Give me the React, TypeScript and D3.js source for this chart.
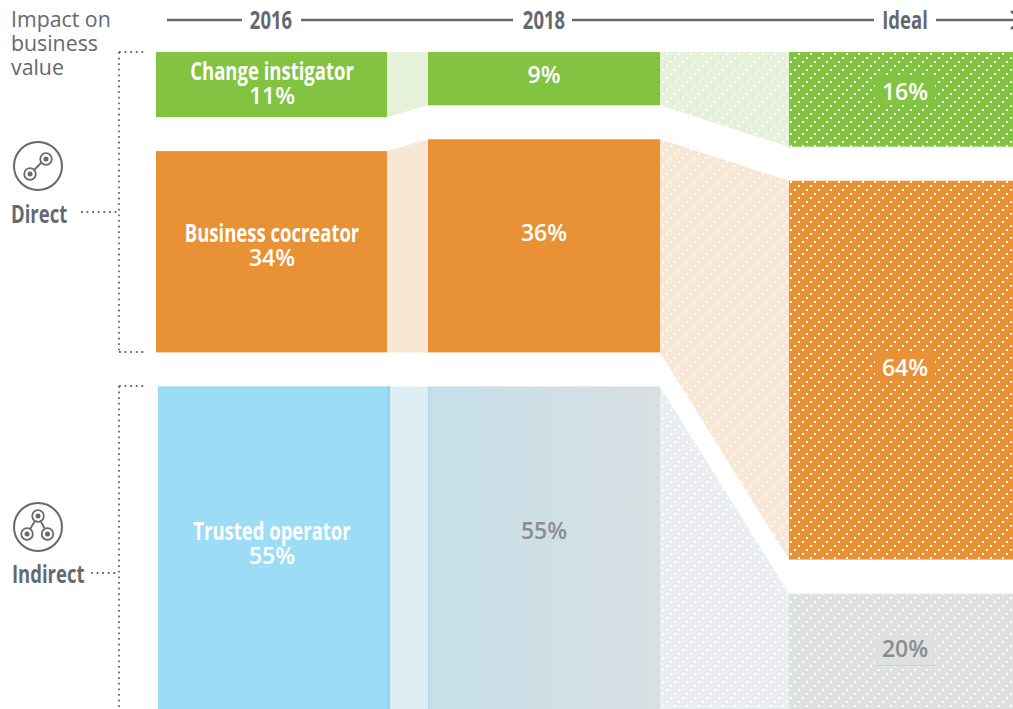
import React from 'react';
import * as d3 from 'd3';

const columns = ['2016', '2018', 'Ideal'];
const roles = ['Change instigator', 'Business cocreator', 'Trusted operator'];
const values2016 = [11, 34, 55];
const values2018 = [9, 36, 55];
const valuesIdeal = [16, 64, 20];
const tiers = ['Direct', 'Indirect'];

const width = 1013;
const height = 709;
const top = 52;
const gap = 34;
const barWidth = 232;
const sans = '"Open Sans", sans-serif';
const grey = '#646871';

const xScale = d3.scaleOrdinal<string, number>().domain(columns).range([156, 428, 789]);
const hScale = d3.scaleLinear().domain([0, 100]).range([0, 592]);
const fills = ['#82c341', '#e99135', '#9cdcf5'];
const ribbons = ['#e5f1d9', '#f9e7d6', '#dfedf4'];

// stacks one column from the top with a fixed gap between the blocks
const stackUp = (values: number[]) => {
  const ends = Array.from(d3.cumsum(values));
  return values.map((v, i) => ({
    y0: top + hScale(ends[i] - v) + i * gap,
    y1: top + hScale(ends[i]) + i * gap,
  }));
};

const stacks = [stackUp(values2016), stackUp(values2018), stackUp(valuesIdeal)];

const ribbon = d3
  .area<{ x: number; y0: number; y1: number }>()
  .x((d) => d.x)
  .y0((d) => d.y0)
  .y1((d) => d.y1);

// squeezed Open Sans stands in for the condensed face
const Cond = ({ x, y, size = 25, fill = '#fff', anchor = 'middle', sx = 0.74, children }: any) => (
  <text
    transform={`translate(${x},${y}) scale(${sx},1)`}
    fontFamily={sans}
    fontWeight={700}
    fontSize={size}
    fill={fill}
    textAnchor={anchor}
  >
    {children}
  </text>
);

const Pct = ({ x, y, fill = '#fff', children }: any) => (
  <text x={x} y={y} fontFamily={sans} fontWeight={600} fontSize={23} fill={fill} textAnchor="middle">
    {children}
  </text>
);

const Node = ({ cx, cy }: any) => (
  <>
    <circle cx={cx} cy={cy} r={5.8} fill="#fff" stroke={grey} strokeWidth={1.8} />
    <circle cx={cx} cy={cy} r={2.5} fill={grey} />
  </>
);

const Dotted = ({ d }: any) => (
  <path d={d} fill="none" stroke={grey} strokeWidth={1.8} strokeDasharray="1.8 3.8" />
);

export default function App() {
  const x16 = xScale('2016');
  const x18 = xScale('2018');
  const xIdeal = xScale('Ideal');
  const cx = columns.map((c) => xScale(c) + barWidth / 2);
  const [s16, s18, sIdeal] = stacks;

  return (
    <svg
      width={width}
      height={height}
      viewBox={`0 0 ${width} ${height}`}
      style={{ position: 'absolute', left: 0, top: 0, background: '#fff' }}
    >
      <defs>
        <pattern id="dots" width={12} height={12} patternUnits="userSpaceOnUse" x={789} y={52}>
          <rect x={1} y={9} width={2} height={2} fill="#fff" />
          <rect x={5} y={5} width={2} height={2} fill="#fff" />
          <rect x={9} y={1} width={2} height={2} fill="#fff" />
        </pattern>
        <linearGradient id="fade2018" x1="0" x2="1" y1="0" y2="0">
          <stop offset="0" stopColor="#c6dfea" />
          <stop offset="1" stopColor="#d9dfe3" />
        </linearGradient>
      </defs>

      {/* header rules */}
      <g stroke={grey} strokeWidth={2.4}>
        <line x1={167} x2={242} y1={20} y2={20} />
        <line x1={301} x2={513} y1={20} y2={20} />
        <line x1={572} x2={874} y1={20} y2={20} />
        <line x1={936} x2={1013} y1={20} y2={20} />
      </g>
      <path d="M1011,11 L1021,20 L1011,29" fill="none" stroke={grey} strokeWidth={2.4} />
      {columns.map((c, i) => (
        <Cond key={c} x={cx[i] - (i === 0 ? 1 : 0)} y={29} fill={grey}>
          {c}
        </Cond>
      ))}

      {/* left titles */}
      <g fontFamily={sans} fontSize={21.3} fill={grey}>
        <text x={11} y={27}>Impact on</text>
        <text x={11} y={51}>business</text>
        <text x={11} y={75}>value</text>
      </g>
      <Cond x={11} y={223} fill={grey} anchor="start">{tiers[0]}</Cond>
      <Cond x={12} y={583} fill={grey} anchor="start">{tiers[1]}</Cond>

      {/* brackets */}
      <Dotted d="M119,52 H147" />
      <Dotted d="M119,52 V352" />
      <Dotted d="M119,352 H147" />
      <Dotted d="M81,212 H118" />
      <Dotted d="M119,386 H147" />
      <Dotted d="M119,386 V709" />
      <Dotted d="M91,573 H118" />

      {/* icons */}
      <circle cx={38} cy={166} r={24} fill="none" stroke={grey} strokeWidth={2} />
      <line x1={30} y1={174} x2={46} y2={158} stroke={grey} strokeWidth={1.8} />
      <Node cx={30} cy={174} />
      <Node cx={46} cy={159} />
      <circle cx={38} cy={527} r={24} fill="none" stroke={grey} strokeWidth={2} />
      <path d="M38,516 L27,534 M38,516 L47.500,534" stroke={grey} strokeWidth={1.8} />
      <Node cx={38} cy={516} />
      <Node cx={27} cy={534} />
      <Node cx={47.5} cy={534} />

      {/* ribbons 2016 to 2018 */}
      {roles.map((r, i) => (
        <path
          key={r}
          fill={ribbons[i]}
          d={
            ribbon([
              { x: x16 + barWidth - 1, y0: s16[i].y0, y1: s16[i].y1 },
              { x: x18, y0: s18[i].y0, y1: s18[i].y1 },
            ]) as string
          }
        />
      ))}

      {/* ribbons 2018 to ideal */}
      {roles.map((r, i) => {
        const d = ribbon([
          { x: x18 + barWidth, y0: s18[i].y0, y1: s18[i].y1 },
          { x: xIdeal, y0: sIdeal[i].y0, y1: sIdeal[i].y1 },
        ]) as string;
        return (
          <g key={r}>
            <path d={d} fill={i === 2 ? '#ebeef0' : ribbons[i]} />
            <path d={d} fill="url(#dots)" />
          </g>
        );
      })}

      {/* 2016 */}
      {s16.map((b, i) => (
        <rect
          key={i}
          x={i === 2 ? x16 + 2 : x16}
          y={b.y0}
          width={barWidth - 1}
          height={b.y1 - b.y0}
          fill={fills[i]}
        />
      ))}
      <rect x={x16 + 231} y={s16[2].y0} width={3} height={s16[2].y1 - s16[2].y0} fill="#8fd5ef" />

      {/* 2018 */}
      {s18.map((b, i) => (
        <rect
          key={i}
          x={x18}
          y={b.y0}
          width={barWidth}
          height={b.y1 - b.y0}
          fill={i === 2 ? 'url(#fade2018)' : fills[i]}
        />
      ))}
      <rect x={x18} y={s18[2].y0} width={1} height={s18[2].y1 - s18[2].y0} fill="#b4d6e3" />

      {/* ideal */}
      {sIdeal.map((b, i) => (
        <g key={i}>
          <rect
            x={xIdeal}
            y={b.y0}
            width={barWidth}
            height={b.y1 - b.y0}
            fill={i === 2 ? '#dfe0e0' : fills[i]}
          />
          <rect x={xIdeal} y={b.y0} width={barWidth} height={b.y1 - b.y0} fill="url(#dots)" />
        </g>
      ))}

      {/* labels 2016 */}
      <Cond x={cx[0]} y={80}>{roles[0]}</Cond>
      <Pct x={cx[0]} y={104}>{values2016[0]}%</Pct>
      <Cond x={cx[0]} y={242}>{roles[1]}</Cond>
      <Pct x={cx[0]} y={266}>{values2016[1]}%</Pct>
      <Cond x={cx[0]} y={540}>{roles[2]}</Cond>
      <Pct x={cx[0]} y={564}>{values2016[2]}%</Pct>

      {/* labels 2018 */}
      <Pct x={cx[1]} y={83}>{values2018[0]}%</Pct>
      <Pct x={cx[1]} y={241}>{values2018[1]}%</Pct>
      <Pct x={cx[1]} y={539} fill="#8a8d91">{values2018[2]}%</Pct>

      {/* labels ideal, on a plain patch so the dots stay clear of them */}
      <rect x={cx[2] - 30} y={76} width={60} height={29} fill={fills[0]} />
      <Pct x={905} y={100}>{valuesIdeal[0]}%</Pct>
      <rect x={cx[2] - 30} y={352} width={60} height={29} fill={fills[1]} />
      <Pct x={905} y={376}>{valuesIdeal[1]}%</Pct>
      <rect x={cx[2] - 30} y={637} width={60} height={28} fill="#dfe0e0" />
      <line x1={cx[2] - 30} x2={cx[2] + 30} y1={665.5} y2={665.5} stroke="#cfd0d0" />
      <Pct x={905} y={657} fill="#8a8d91">{valuesIdeal[2]}%</Pct>
    </svg>
  );
}
